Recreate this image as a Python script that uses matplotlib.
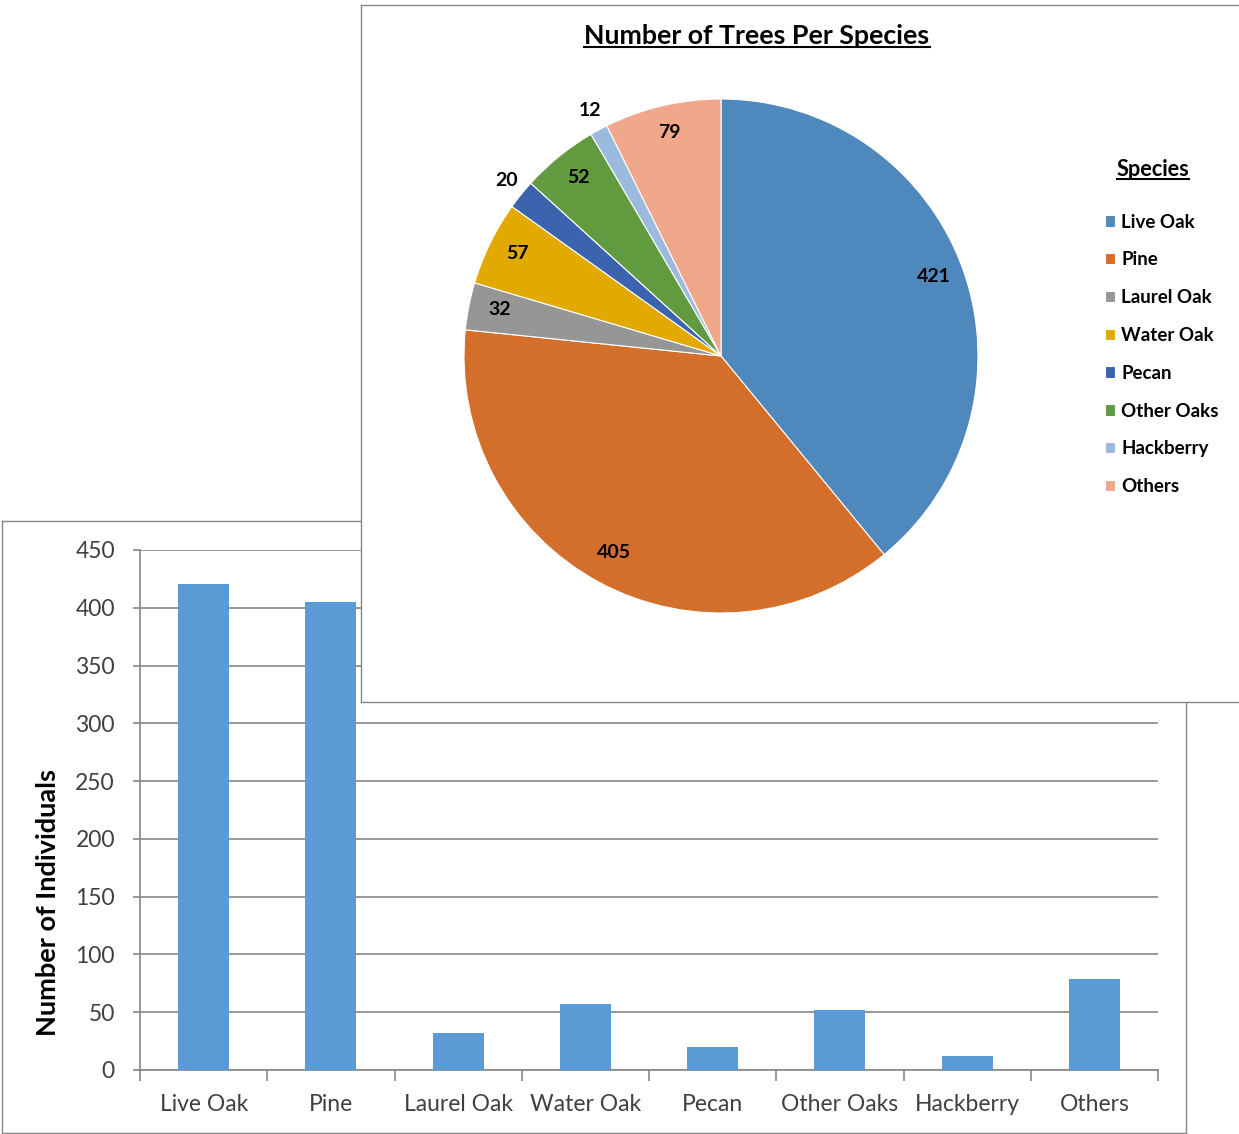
import numpy as np
import matplotlib
matplotlib.use('Agg')
from matplotlib import pyplot as plt
from matplotlib.lines import Line2D

plt.rcParams['font.family'] = ['Lato', 'DejaVu Sans']

species = ['Live Oak', 'Pine', 'Laurel Oak', 'Water Oak', 'Pecan', 'Other Oaks', 'Hackberry', 'Others']
counts = [421, 405, 32, 57, 20, 52, 12, 79]
pie_colors = ['#4f88bd', '#d46e2b', '#969696', '#e2aa00', '#3c63ad', '#629a3f', '#9bbade', '#f0a78a']
bar_color = '#5b9bd5'
yticks = [0, 50, 100, 150, 200, 250, 300, 350, 400, 450]

W, H = 1239, 1134
fig = plt.figure(figsize=(W / 100, H / 100), dpi=100)


def box(x0, y0, x1, y1):
    # pixel box (top-left origin) -> figure fraction rect
    return [x0 / W, 1 - y1 / H, (x1 - x0) / W, (y1 - y0) / H]


grey = '#868686'

# back panel for the bar chart
bg = fig.add_axes(box(2, 521, 1186, 1133), zorder=-1)
bg.set_xticks([]); bg.set_yticks([])
for s in bg.spines.values():
    s.set_color(grey); s.set_linewidth(1)

# bar chart
ax = fig.add_axes(box(140, 550, 1158, 1070), zorder=0)
ax.patch.set_alpha(0)
x = np.arange(len(species))
ax.bar(x, counts, width=0.4, color=bar_color, zorder=3)
ax.set_xlim(-0.5, len(species) - 0.5)
ax.set_ylim(0, 450)
ax.set_yticks(yticks)
ax.set_xticks(x)
ax.set_xticklabels(species)
ax.set_xticks(np.arange(-0.5, len(species)), minor=True)
ax.tick_params(axis='x', which='major', length=0, pad=17, labelsize=16.5, labelcolor='#404040')
ax.tick_params(axis='x', which='minor', length=8, width=1.2, color=grey, direction='out')
ax.tick_params(axis='y', length=5, width=1.2, color=grey, pad=13, labelsize=16.5, labelcolor='#404040')
ax.yaxis.grid(True, color=grey, linewidth=1.2)
ax.set_axisbelow(True)
for k in ['top', 'right']:
    ax.spines[k].set_visible(False)
for k in ['left', 'bottom']:
    ax.spines[k].set_color(grey); ax.spines[k].set_linewidth(1.2)
ax.set_ylabel('Number of Individuals', fontsize=19.5, fontweight='bold', color='black')
ax.yaxis.set_label_coords((60 - 140) / 1018, (1070 - 902) / 520)

# front panel for the pie chart
panel = fig.add_axes(box(361, 5, 1245, 702), zorder=1)
panel.set_facecolor('white')
panel.set_xticks([]); panel.set_yticks([])
for s in panel.spines.values():
    s.set_color(grey); s.set_linewidth(1)

pax = fig.add_axes(box(464, 99, 978, 613), zorder=2)
wedges, _ = pax.pie(counts, colors=pie_colors, startangle=90, counterclock=False,
                    wedgeprops=dict(edgecolor='white', linewidth=0.8))
pax.set_xlim(-1, 1); pax.set_ylim(-1, 1)
pax.set_aspect('equal')
total = sum(counts)
for w, v in zip(wedges, counts):
    ang = np.deg2rad((w.theta1 + w.theta2) / 2)
    r = 1.07 if v / total < 0.02 else 0.88
    pax.text(r * np.cos(ang), r * np.sin(ang) + 0.012, str(v), ha='center', va='center',
             fontsize=14, fontweight='bold', clip_on=False)

title = fig.text(757 / W, 1 - 36 / H, 'Number of Trees Per Species', ha='center', va='center',
                 fontsize=19.3, fontweight='bold', zorder=5)
ltitle = fig.text(1153 / W, 1 - 169 / H, 'Species', ha='center', va='center',
                  fontsize=15.7, fontweight='bold', zorder=5)

leg = fig.legend(wedges, species, loc='upper left', bbox_to_anchor=(1097 / W, 1 - 206 / H),
                 frameon=False, prop=dict(size=13.5, weight='bold'), handlelength=0.55,
                 handleheight=0.55, handletextpad=0.35, labelspacing=1.11, borderaxespad=0)
leg.set_zorder(5)

# underline the two titles
fig.canvas.draw()
r = fig.canvas.get_renderer()
for t in [title, ltitle]:
    bb = t.get_window_extent(r)
    y = bb.y0 + 1
    fig.add_artist(Line2D([bb.x0 / W, bb.x1 / W], [y / H, y / H], color='black',
                          linewidth=1.5, zorder=6, transform=fig.transFigure))

fig.savefig('out.png', dpi=100)
